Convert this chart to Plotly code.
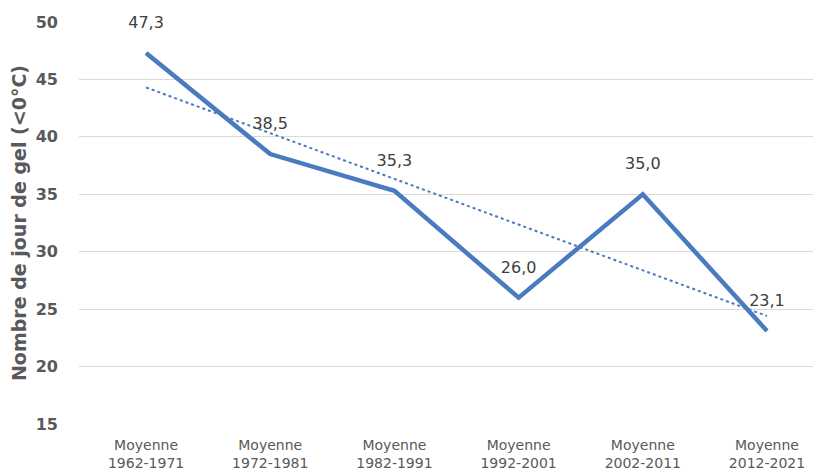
import plotly.graph_objs as go

FONT = "DejaVu Sans, Verdana, sans-serif"
LINE_COLOR = "#4a7bc0"
GRID_COLOR = "#d9d9d9"
TEXT_COLOR = "#595959"

categories = [
    "Moyenne<br>1962-1971",
    "Moyenne<br>1972-1981",
    "Moyenne<br>1982-1991",
    "Moyenne<br>1992-2001",
    "Moyenne<br>2002-2011",
    "Moyenne<br>2012-2021",
]
jours_gel = [47.3, 38.5, 35.3, 26.0, 35.0, 23.1]
labels = ["47,3", "38,5", "35,3", "26,0", "35,0", "23,1"]
# linear trend, read at the first and last category
trend_x = [0, 5]
trend_y = [44.3, 24.4]
yticks = [15, 20, 25, 30, 35, 40, 45, 50]

x_idx = list(range(len(categories)))

fig = go.Figure(
    data=[
        go.Scatter(
            x=trend_x,
            y=trend_y,
            mode="lines",
            line={"color": LINE_COLOR, "width": 2, "dash": "dot"},
            hoverinfo="skip",
        ),
        go.Scatter(
            x=x_idx,
            y=jours_gel,
            mode="lines+markers+text",
            line={"color": LINE_COLOR, "width": 4.5},
            # invisible markers, only to push the labels up
            marker={"size": 32, "color": "rgba(0,0,0,0)"},
            text=labels,
            textposition="top center",
            textfont={"family": FONT, "size": 16, "color": "#404040"},
            cliponaxis=False,
        ),
    ],
    layout={
        "width": 813,
        "height": 468,
        "showlegend": False,
        "margin": {"l": 71, "r": 0, "t": 14, "b": 52},
        "paper_bgcolor": "white",
        "plot_bgcolor": "white",
        "font": {"family": FONT, "color": TEXT_COLOR},
        "xaxis": {
            "tickvals": x_idx,
            "ticktext": categories,
            "range": [-0.54, 5.435],
            "showgrid": False,
            "zeroline": False,
            "showline": False,
            "automargin": False,
            "tickfont": {"size": 14, "color": TEXT_COLOR},
            "ticklen": 0,
            "ticklabelstandoff": 11,
        },
        "yaxis": {
            "range": [15, 50],
            "tickvals": yticks,
            "gridcolor": GRID_COLOR,
            "zeroline": False,
            "showline": False,
            "automargin": False,
            "ticks": "",
            "ticklabelstandoff": 20,
            "tickfont": {"size": 16, "color": TEXT_COLOR, "weight": "bold"},
            "title": {
                "text": "Nombre de jour de gel (<0°C)",
                "font": {"size": 19, "color": TEXT_COLOR, "weight": "bold"},
                "standoff": 4,
            },
        },
    },
)

fig.write_html("out.html")
